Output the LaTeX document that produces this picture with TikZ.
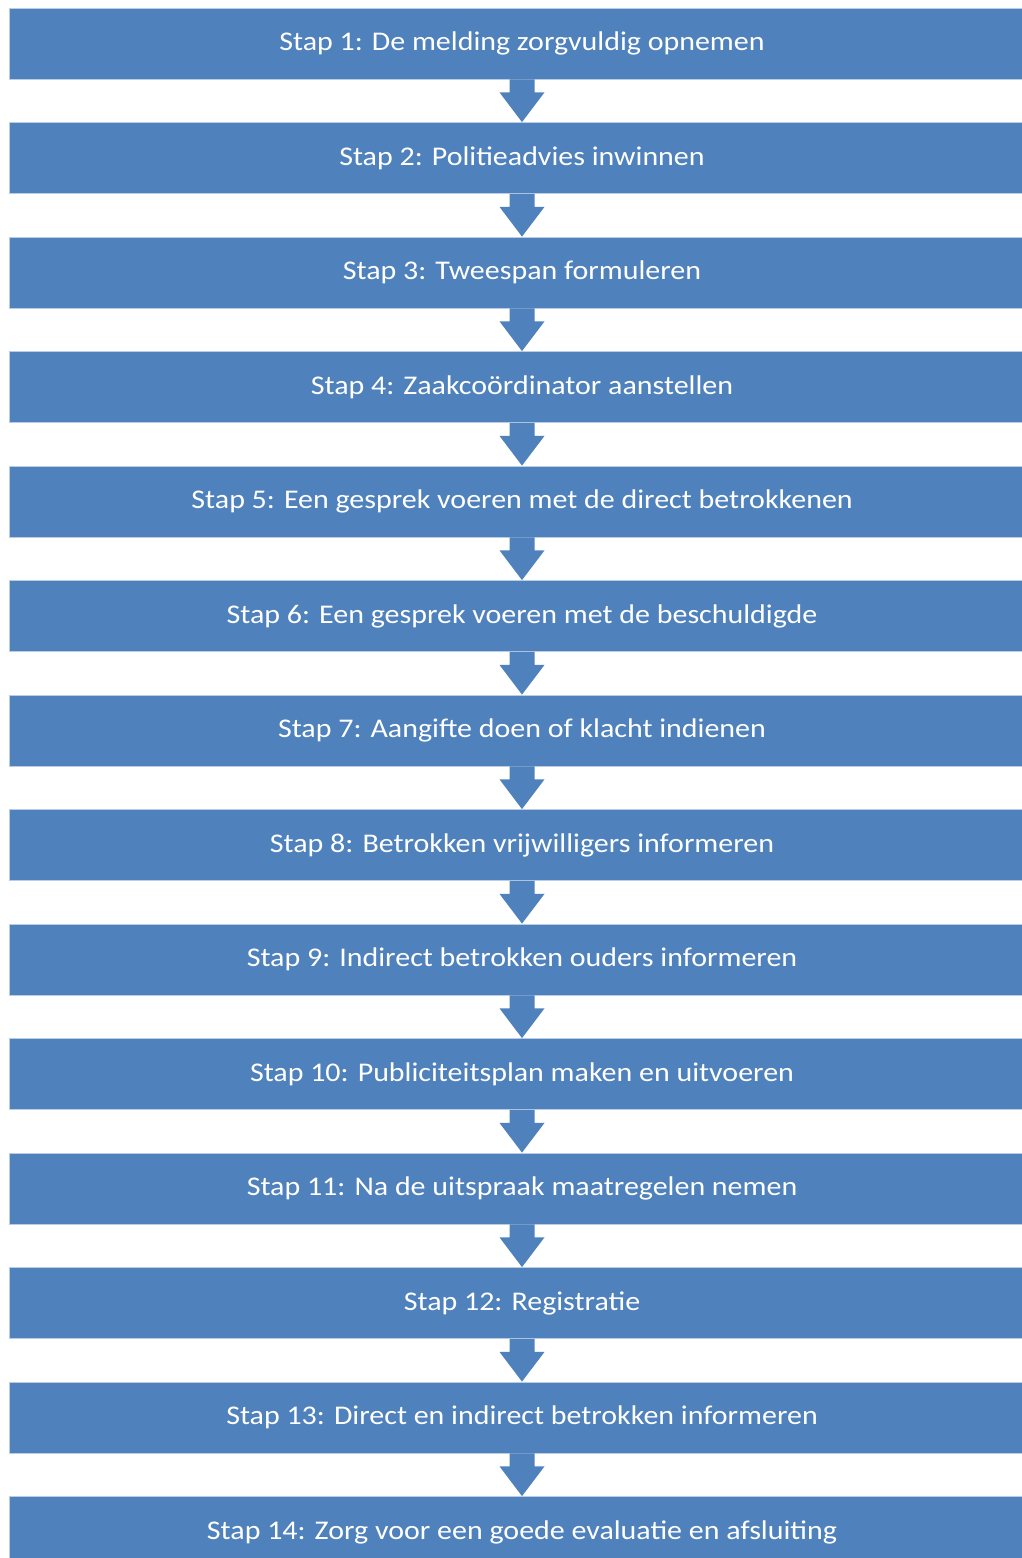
\documentclass[tikz,border=0pt]{standalone}
\usepackage{fontspec}
\setmainfont{Carlito}
\newfontfamily\stapfont[FakeStretch=1.11]{Carlito}
\definecolor{stapblue}{HTML}{4F81BD}
\definecolor{stapedge}{HTML}{B9CDE5}
\begin{document}
\begin{tikzpicture}[x=1pt,y=-1pt,
  stapbox/.style={fill=stapblue, draw=stapedge, line width=0.8pt, minimum width=1026pt, minimum height=71pt, inner sep=0pt, text=white, font=\stapfont\fontsize{27}{32}\selectfont, anchor=center},
  stapdown/.style={fill=stapblue, draw=none}]
\useasboundingbox (0,0) rectangle (1022,1558);
\clip (0,0) rectangle (1022,1558);
\foreach \i/\t in {1/{Stap 1: De melding zorgvuldig opnemen},
  2/{Stap 2: Politieadvies inwinnen},
  3/{Stap 3: Tweespan formuleren},
  4/{Stap 4: Zaakcoördinator aanstellen},
  5/{Stap 5: Een gesprek voeren met de direct betrokkenen},
  6/{Stap 6: Een gesprek voeren met de beschuldigde},
  7/{Stap 7: Aangifte doen of klacht indienen},
  8/{Stap 8: Betrokken vrijwilligers informeren},
  9/{Stap 9: Indirect betrokken ouders informeren},
  10/{Stap 10: Publiciteitsplan maken en uitvoeren},
  11/{Stap 11: Na de uitspraak maatregelen nemen},
  12/{Stap 12: Registratie},
  13/{Stap 13: Direct en indirect betrokken informeren},
  14/{Stap 14: Zorg voor een goede evaluatie en afsluiting}}{
  \node[stapbox] (s\i) at (522, {43.5+114.5*(\i-1)}) {\t};
}
\foreach \i [evaluate=\i as \j using int(\i+1)] in {1,...,13}{
  \fill[stapdown] ([xshift=-12.5pt]s\i.south) -- ([xshift=12.5pt]s\i.south)
    -- ([xshift=12.5pt,yshift=-13pt]s\i.south) -- ([xshift=22.5pt,yshift=-13pt]s\i.south)
    -- (s\j.north) -- ([xshift=-22.5pt,yshift=-13pt]s\i.south)
    -- ([xshift=-12.5pt,yshift=-13pt]s\i.south) -- cycle;
}
\end{tikzpicture}
\end{document}
